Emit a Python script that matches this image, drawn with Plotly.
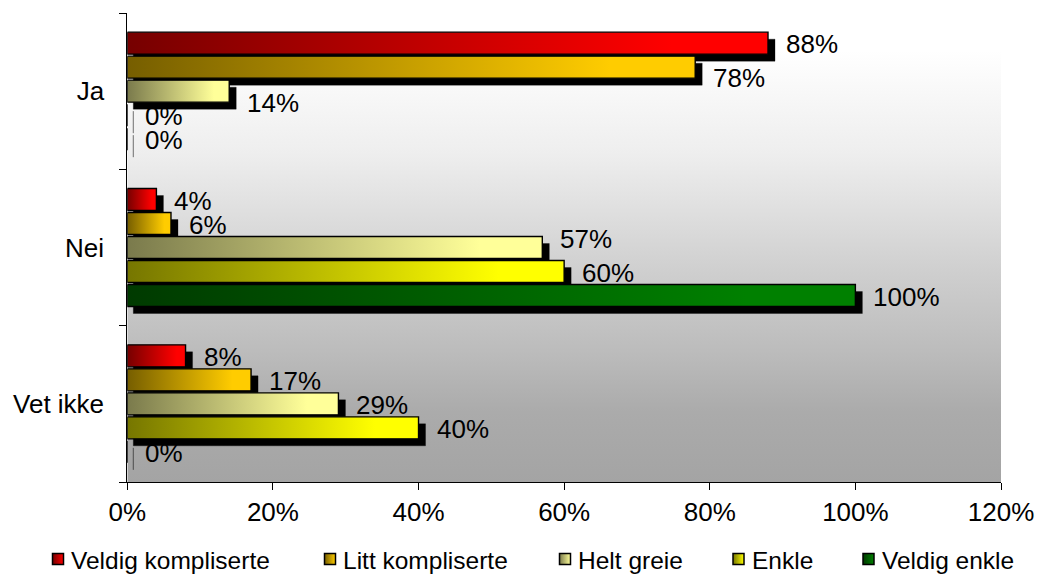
import plotly.graph_objects as go

# ---- data -------------------------------------------------------------
categories = ["Ja", "Nei", "Vet ikke"]
series_names = ["Veldig kompliserte", "Litt kompliserte", "Helt greie", "Enkle", "Veldig enkle"]
veldig_kompliserte = [88, 4, 8]
litt_kompliserte = [78, 6, 17]
helt_greie = [14, 57, 29]
enkle = [0, 60, 40]
veldig_enkle = [0, 100, 0]
x_ticks = [0, 20, 40, 60, 80, 100, 120]
x_tick_labels = ["0%", "20%", "40%", "60%", "80%", "100%", "120%"]

series_values = [veldig_kompliserte, litt_kompliserte, helt_greie, enkle, veldig_enkle]

# ---- styling ----------------------------------------------------------
# (dark left end, bright right end) of each series' horizontal gradient
gradients = [
    ("#760000", "#FF0000"),
    ("#765E00", "#FFCC00"),
    ("#7A7A4C", "#FFFF99"),
    ("#767600", "#FFFF00"),
    ("#003A00", "#008000"),
]
FONT = "Liberation Sans, Arial, sans-serif"

W, H = 1037, 574
# plot area in pixels
PA_L, PA_R, PA_T, PA_B = 127.3, 1001.0, 13.0, 482.0
X_MAX = x_ticks[-1]
n_cat = len(categories)
px_x = (PA_R - PA_L) / X_MAX
px_y = (PA_B - PA_T) / n_cat

PITCH = 24 / px_y          # distance between neighbouring bars
BAR_H = 22 / px_y          # bar thickness
SH_DX0 = 6 / px_x          # drop shadow offsets
SH_DX1 = 7 / px_x
SH_DY = 7 / px_y

# vertical nudges (px, positive = up) for a few value labels
label_nudge = {(0, 1): -11, (0, 2): -12, (1, 2): 9}


def bar_span(ci, si):
    top = ci - len(series_names) * PITCH / 2 + si * PITCH + (PITCH - BAR_H) / 2
    return top, top + BAR_H


fig = go.Figure()

# plot-area background: white at the top fading to grey at the bottom
fig.add_trace(go.Scatter(
    x=[0, X_MAX, X_MAX, 0, 0],
    y=[-0.5, -0.5, n_cat - 0.5, n_cat - 0.5, -0.5],
    mode="lines", fill="toself", line=dict(width=0),
    fillgradient=dict(
        type="vertical", start=-0.5, stop=n_cat - 0.5,
        colorscale=[[0, "#FFFFFF"], [0.08, "#FFFFFF"], [0.3, "#EEEEEE"],
                    [0.55, "#CFCFCF"], [0.72, "#BCBCBC"], [0.85, "#ABABAB"],
                    [1, "#A4A4A4"]],
    ),
    hoverinfo="skip", showlegend=False,
))

# drop shadows (all drawn beneath the bars)
sx, sy = [], []
for si, vals in enumerate(series_values):
    for ci, v in enumerate(vals):
        top, bot = bar_span(ci, si)
        x0 = SH_DX0
        x1 = v + SH_DX1 if v > 0 else SH_DX0
        sx += [x0, x1, x1, x0, x0, None]
        sy += [top + SH_DY, top + SH_DY, bot + SH_DY, bot + SH_DY, top + SH_DY, None]
fig.add_trace(go.Scatter(
    x=sx, y=sy, mode="lines", fill="toself", fillcolor="black",
    line=dict(color="rgba(0,0,0,0.3)", width=1),
    hoverinfo="skip", showlegend=False,
))

# bars, each with its own left-to-right gradient
for si, vals in enumerate(series_values):
    dark, bright = gradients[si]
    for ci, v in enumerate(vals):
        top, bot = bar_span(ci, si)
        fig.add_trace(go.Scatter(
            x=[0, v, v, 0, 0], y=[top, top, bot, bot, top],
            mode="lines", fill="toself",
            fillgradient=dict(type="horizontal",
                              colorscale=[[0, dark], [0.85, bright], [1, bright]]),
            line=dict(color="black", width=1.4),
            hoverinfo="skip", showlegend=False,
        ))
        fig.add_annotation(
            x=v, y=(top + bot) / 2, xref="x", yref="y",
            text=f"{v}%", showarrow=False, xanchor="left", yanchor="middle",
            xshift=16, yshift=label_nudge.get((ci, si), -1),
            font=dict(family=FONT, size=26, color="black"),
        )

# legend row drawn on a full-figure pixel axis
legend_x = [58, 330, 565, 738.5, 868.5]
legend_y = 559
for si, name in enumerate(series_names):
    dark, bright = gradients[si]
    fig.add_trace(go.Scatter(
        x=[legend_x[si]], y=[legend_y], xaxis="x2", yaxis="y2",
        mode="markers",
        marker=dict(symbol="square", size=11, color=dark,
                    gradient=dict(type="horizontal", color=bright),
                    line=dict(color="black", width=1.5)),
        hoverinfo="skip", showlegend=False,
    ))
    fig.add_annotation(
        x=legend_x[si] + 11, y=legend_y + 1, xref="x2", yref="y2",
        text=name, showarrow=False, xanchor="left", yanchor="middle",
        font=dict(family=FONT, size=24.5, color="black"),
    )

fig.update_layout(
    width=W, height=H,
    margin=dict(l=0, r=0, t=0, b=0, autoexpand=False),
    paper_bgcolor="white", plot_bgcolor="rgba(0,0,0,0)",
    showlegend=False,
    font=dict(family=FONT, size=26, color="black"),
    xaxis=dict(
        domain=[PA_L / W, PA_R / W], range=[0, X_MAX], automargin=False,
        tickvals=x_ticks, ticktext=x_tick_labels,
        ticks="outside", ticklen=7, tickcolor="black", tickwidth=1,
        showline=True, linecolor="black", linewidth=1,
        showgrid=False, zeroline=False, fixedrange=True,
        tickfont=dict(family=FONT, size=26, color="black"),
    ),
    yaxis=dict(
        domain=[1 - PA_B / H, 1 - PA_T / H], range=[n_cat - 0.5, -0.5], automargin=False,
        tickvals=list(range(n_cat)), ticktext=categories,
        ticks="outside", ticklen=17, tickcolor="rgba(0,0,0,0)",
        minor=dict(tickvals=[i - 0.5 for i in range(n_cat + 1)],
                   ticks="outside", ticklen=7, tickcolor="black", tickwidth=1,
                   showgrid=False),
        showline=True, linecolor="black", linewidth=1,
        showgrid=False, zeroline=False, fixedrange=True,
        tickfont=dict(family=FONT, size=26, color="black"),
    ),
    xaxis2=dict(domain=[0, 1], range=[0, W], anchor="y2", visible=False,
                fixedrange=True, automargin=False),
    yaxis2=dict(domain=[0, 1], range=[H, 0], anchor="x2", visible=False,
                fixedrange=True, automargin=False),
)

fig.write_html("out.html")
